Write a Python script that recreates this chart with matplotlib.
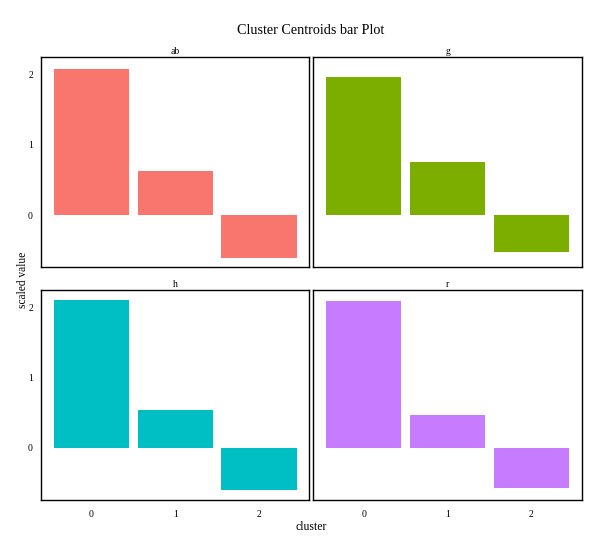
import matplotlib
matplotlib.use("Agg")
import matplotlib.pyplot as plt
import numpy as np

plt.rcParams['font.family'] = ['Liberation Serif', 'DejaVu Serif']

clusters = ["0", "1", "2"]
facets = ["ab", "g", "h", "r"]
ab_vals = [2.085, 0.624, -0.606]
g_vals = [1.97, 0.752, -0.52]
h_vals = [2.113, 0.539, -0.596]
r_vals = [2.099, 0.468, -0.567]
colors = ["#F8766D", "#7CAE00", "#00BFC4", "#C77CFF"]
yticks = [0, 1, 2]

W, H = 601, 545
fig = plt.figure(figsize=(W / 100, H / 100), dpi=100)

series = [ab_vals, g_vals, h_vals, r_vals]
allv = np.concatenate([np.array(s) for s in series])
lo, hi = min(allv.min(), 0), max(allv.max(), 0)
pad = (hi - lo) * 0.05
ylim = (lo - pad, hi + pad)

cols_x = [(41.3, 309.3), (313.3, 581.7)]
rows_y = [(57.3, 267.3), (290.3, 500.0)]

for i, (name, vals) in enumerate(zip(facets, series)):
    r, c = divmod(i, 2)
    x0, x1 = cols_x[c]
    y0, y1 = rows_y[r]
    ax = fig.add_axes([x0 / W, 1 - y1 / H, (x1 - x0) / W, (y1 - y0) / H])
    xs = np.arange(len(clusters))
    ax.bar(xs, vals, width=0.9, color=colors[i], linewidth=0)
    ax.set_xlim(-0.6, len(clusters) - 1 + 0.6)
    ax.set_ylim(*ylim)
    for sp in ax.spines.values():
        sp.set_linewidth(1.0)
        sp.set_color("black")
    ax.tick_params(axis="x", length=0, labelsize=7, pad=7)
    ax.tick_params(axis="y", length=0, labelsize=7, pad=6)
    ax.set_yticks(yticks)
    ax.set_xticks(xs)
    if c == 0:
        ax.set_yticklabels([str(t) for t in yticks])
    else:
        ax.set_yticklabels([])
    if r == 1:
        ax.set_xticklabels(clusters)
    else:
        ax.set_xticklabels([])
    ax.set_title(name, fontsize=7, pad=2.5)

fig.text(311 / W, 1 - 30 / H, "Cluster Centroids bar Plot", ha="center", va="center", fontsize=10.2)
fig.text(311 / W, 1 - 527 / H, "cluster", ha="center", va="center", fontsize=8.5)
fig.text(22.5 / W, 1 - 280 / H, "scaled value", ha="center", va="center", rotation=90, fontsize=8.3)

fig.savefig("out.png", dpi=100)
